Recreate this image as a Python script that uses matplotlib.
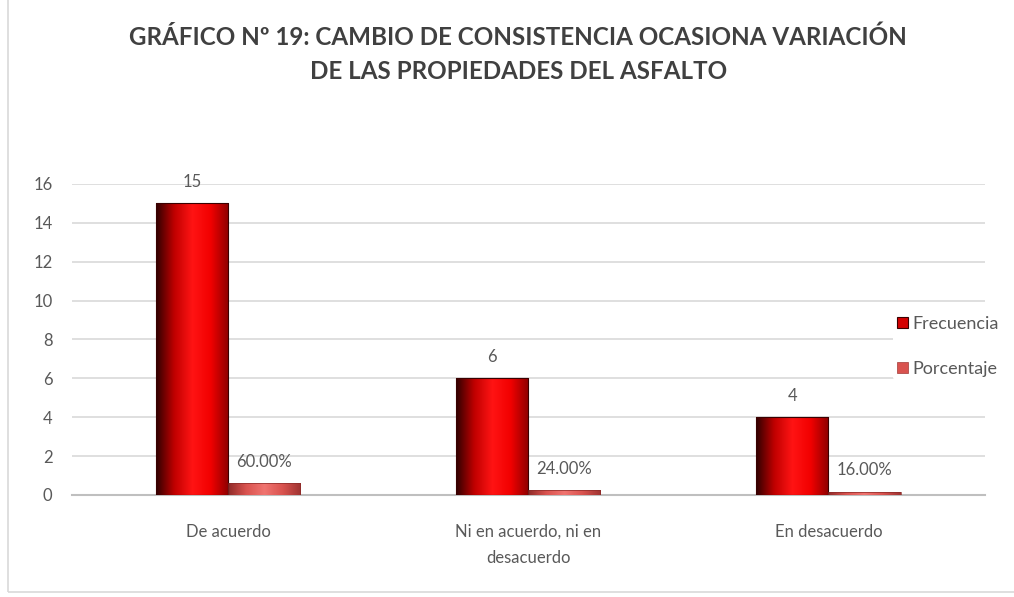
import numpy as np
import matplotlib
matplotlib.use('Agg')
import matplotlib.pyplot as plt
from matplotlib.colors import LinearSegmentedColormap
from matplotlib.patches import Rectangle

categorias = ['De acuerdo', 'Ni en acuerdo, ni en\ndesacuerdo', 'En desacuerdo']
frecuencia = [15, 6, 4]
porcentaje = [0.60, 0.24, 0.16]

plt.rcParams['font.family'] = ['Lato', 'DejaVu Sans']

gris = '#595959'
rojo_frec = ['#2e0000', '#c00000', '#ff1414', '#f20000', '#8c0000']
rojo_porc = ['#8f2a28', '#d9534f', '#f07470', '#d9534f', '#9e3331']


def gradiente(ax, barras, colores):
    cmap = LinearSegmentedColormap.from_list('g', colores)
    grad = np.linspace(0, 1, 256).reshape(1, -1)
    for r in barras:
        x, y = r.get_x(), r.get_y()
        w, h = r.get_width(), r.get_height()
        im = ax.imshow(grad, extent=[x, x + w, y, y + h], aspect='auto',
                       cmap=cmap, zorder=3, interpolation='bicubic')
        im.set_clip_path(r)


fig = plt.figure(figsize=(10.14, 5.97), dpi=100)
ax = fig.add_axes([0.071, 0.171, 0.900, 0.521])

x = np.arange(len(categorias))
w = 0.24
b1 = ax.bar(x - w / 2, frecuencia, w, facecolor='none', edgecolor='#3a0000',
            linewidth=0.8, zorder=4, label='Frecuencia')
b2 = ax.bar(x + w / 2, porcentaje, w, facecolor='none', edgecolor='#8a2a28',
            linewidth=0.5, zorder=4, label='Porcentaje')
gradiente(ax, b1, rojo_frec)
gradiente(ax, b2, rojo_porc)

for xi, v in zip(x - w / 2, frecuencia):
    ax.text(xi, v + 0.7, str(v), ha='center', va='bottom', fontsize=12, color=gris)
for xi, v in zip(x + w / 2, porcentaje):
    ax.text(xi, v + 0.7, f'{v * 100:.2f}%', ha='center', va='bottom', fontsize=12, color=gris)

ax.set_xlim(-0.52, 2.52)
ax.set_ylim(0, 16)
ax.set_yticks(range(0, 17, 2))
ax.set_xticks(x)
ax.set_xticklabels(categorias, fontsize=12, color=gris, linespacing=1.75)
ax.tick_params(axis='y', labelsize=12, colors=gris, length=0, pad=14)
ax.tick_params(axis='x', length=0, pad=21)
ax.grid(axis='y', color='#d9d9d9', linewidth=1.2, zorder=0)
ax.set_axisbelow(True)
for s in ['top', 'right', 'left']:
    ax.spines[s].set_visible(False)
ax.spines['bottom'].set_color('#bfbfbf')
ax.spines['bottom'].set_linewidth(1.5)

h = [Rectangle((0, 0), 1, 1, facecolor='#d40000', edgecolor='#3a0000', linewidth=0.8),
     Rectangle((0, 0), 1, 1, facecolor='#d9534f', edgecolor='#a33a37', linewidth=0.5)]
leg = fig.legend(h, ['Frecuencia', 'Porcentaje'], loc='center left',
                 bbox_to_anchor=(0.881, 0.420), frameon=True, fontsize=13,
                 handlelength=0.6, handleheight=0.6, handletextpad=0.25,
                 labelspacing=1.6, labelcolor=gris, borderpad=0.2,
                 borderaxespad=0)
leg.get_frame().set_facecolor('white')
leg.get_frame().set_edgecolor('none')
leg.get_frame().set_alpha(1)

fig.text(0.511, 0.958, 'GRÁFICO Nº 19: CAMBIO DE CONSISTENCIA OCASIONA VARIACIÓN\nDE LAS PROPIEDADES DEL ASFALTO',
         ha='center', va='top', fontsize=17.4, fontweight='bold', color='#404040',
         linespacing=1.6)

fig.patches.append(Rectangle((8 / 1014, 5 / 597), 1.2, 1.2, transform=fig.transFigure,
                             facecolor='none', edgecolor='#d9d9d9', linewidth=1.2))

fig.savefig('out.png', dpi=100)
